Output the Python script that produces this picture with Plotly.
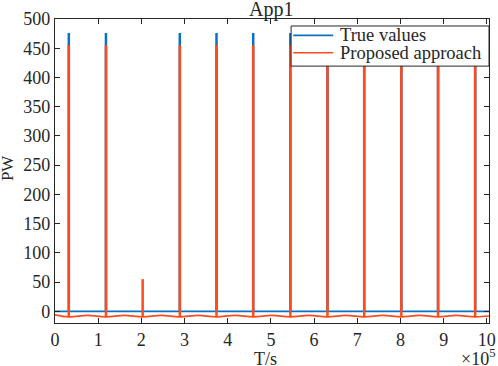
import plotly.graph_objects as go

# ---- data (x in units of 1e5 s, y in W) ----
spike_t = [0.32, 1.18, 2.03, 2.89, 3.74, 4.59, 5.45, 6.31, 7.16, 8.02, 8.87, 9.73]
true_peak = [476, 476, 0, 476, 476, 476, 476, 476, 476, 476, 476, 476]
pred_peak = [455, 455, 55, 455, 455, 455, 455, 455, 455, 455, 455, 455]
true_base = 0
pred_base_t = [0.0, 0.32, 0.75, 1.18, 1.60, 2.03, 2.46, 2.89, 3.31, 3.74, 4.17,
               4.59, 5.02, 5.45, 5.88, 6.31, 6.73, 7.16, 7.59, 8.02, 8.45,
               8.87, 9.30, 9.73, 10.2]
pred_base_v = [-6, -9.5, -7, -9.5, -7, -9.5, -7, -9.5, -7, -9.5, -7,
               -9.5, -7, -9.5, -7, -9.5, -7, -9.5, -7, -9.5, -7,
               -9.5, -7, -9.5, -7]
x_ticks = list(range(0, 11))
y_ticks = list(range(0, 501, 50))
series_names = ["True values", "Proposed approach"]

BLUE = "#0A72C4"
RED = "#FF4A1C"
INK = "#262626"
FONT = "Liberation Serif"

def pred_base_at(t):
    for i in range(len(pred_base_t) - 1):
        if pred_base_t[i] <= t <= pred_base_t[i + 1]:
            a, b = pred_base_t[i], pred_base_t[i + 1]
            return pred_base_v[i] + (pred_base_v[i + 1] - pred_base_v[i]) * (t - a) / (b - a)
    return pred_base_v[-1]

fig = go.Figure()

# True values: flat baseline + spikes
fig.add_trace(go.Scatter(x=[0, 10.2], y=[true_base, true_base], mode="lines",
                         line=dict(color=BLUE, width=1.8), name=series_names[0],
                         showlegend=False))
tx, ty = [], []
for t, p in zip(spike_t, true_peak):
    if p > true_base:
        tx += [t, t, None]
        ty += [true_base, p, None]
fig.add_trace(go.Scatter(x=tx, y=ty, mode="lines", line=dict(color=BLUE, width=2.5),
                         name=series_names[0], showlegend=False))

# Proposed approach: wiggly baseline + spikes
fig.add_trace(go.Scatter(x=pred_base_t, y=pred_base_v, mode="lines",
                         line=dict(color=RED, width=1.6, shape="spline"),
                         name=series_names[1], showlegend=False))
px_, py_ = [], []
for t, p in zip(spike_t, pred_peak):
    px_ += [t, t, None]
    py_ += [pred_base_at(t), p, None]
fig.add_trace(go.Scatter(x=px_, y=py_, mode="lines", line=dict(color=RED, width=2.5),
                         name=series_names[1], showlegend=False))

axis_common = dict(showline=True, linecolor=INK, linewidth=1.2, mirror="ticks",
                   ticks="inside", ticklen=5, tickcolor=INK, showgrid=False,
                   zeroline=False, automargin=False,
                   tickfont=dict(family=FONT, size=18, color=INK))

fig.update_layout(
    width=498, height=366,
    margin=dict(l=55, r=9, t=19, b=43),
    plot_bgcolor="white", paper_bgcolor="white",
    font=dict(family=FONT, size=18, color=INK),
    xaxis=dict(range=[0, 10.05], tickvals=x_ticks, ticktext=[str(v) for v in x_ticks],
               **axis_common),
    yaxis=dict(range=[-20, 500], tickvals=y_ticks, ticktext=[str(v) for v in y_ticks],
               **axis_common),
    showlegend=False,
)

# Title and axis labels
fig.add_annotation(text="App1", xref="paper", yref="paper", x=0.498, y=1.030,
                   xanchor="center", yanchor="middle", showarrow=False,
                   font=dict(family=FONT, size=20, color=INK))
fig.add_annotation(text="T/s", xref="paper", yref="paper", x=0.486, y=-0.12,
                   xanchor="center", yanchor="middle", showarrow=False,
                   font=dict(family=FONT, size=18, color=INK))
fig.add_annotation(text="PW", xref="paper", yref="paper", x=-0.108, y=0.51,
                   xanchor="center", yanchor="middle", textangle=-90, showarrow=False,
                   font=dict(family=FONT, size=17, color=INK))
fig.add_annotation(text="×10<sup>5</sup>", xref="paper", yref="paper", x=1.018, y=-0.112,
                   xanchor="right", yanchor="middle", showarrow=False,
                   font=dict(family=FONT, size=18, color=INK))

# Legend box (MATLAB style)
fig.add_shape(type="rect", xref="paper", yref="paper", x0=0.544, x1=1.0, y0=0.845, y1=0.977,
              line=dict(color=INK, width=1), fillcolor="white", layer="above")
legend_rows = [(series_names[0], BLUE, 0.946), (series_names[1], RED, 0.889)]
for name, col, yy in legend_rows:
    fig.add_shape(type="line", xref="paper", yref="paper", x0=0.549, x1=0.641, y0=yy, y1=yy,
                  line=dict(color=col, width=1.6), layer="above")
    fig.add_annotation(text=name, xref="paper", yref="paper", x=0.651, y=yy,
                       xanchor="left", yanchor="middle", showarrow=False,
                       font=dict(family=FONT, size=18.5, color=INK))

fig.write_html("out.html", config={"displayModeBar": False},
               post_script="document.body.style.margin='0';document.body.style.overflow='hidden';")
